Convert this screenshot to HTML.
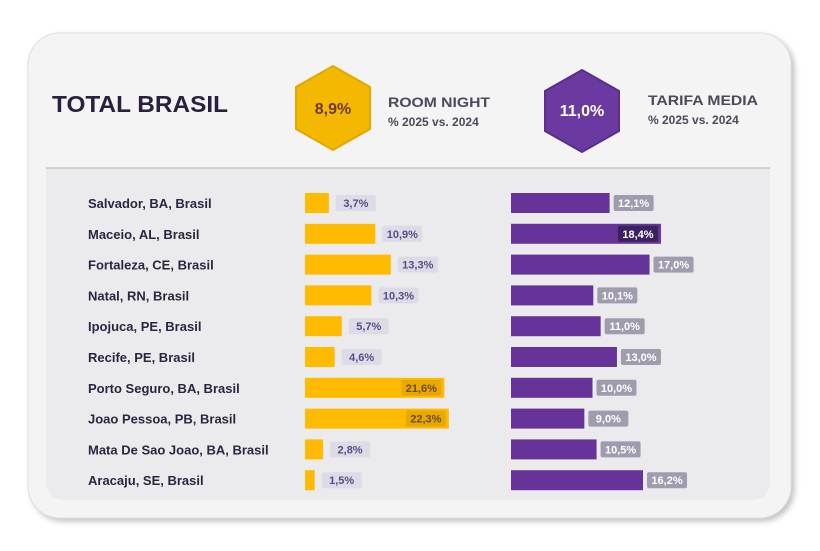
<!DOCTYPE html>
<html><head><meta charset="utf-8"><style>
body{margin:0;background:#fff;width:820px;height:546px;overflow:hidden;font-family:"Liberation Sans",sans-serif}
</style></head><body>
<svg width="820" height="546" viewBox="0 0 820 546" xmlns="http://www.w3.org/2000/svg">
<defs><filter id="sh" x="-5%" y="-5%" width="115%" height="115%"><feDropShadow dx="3" dy="3" stdDeviation="3" flood-color="#999" flood-opacity="0.6"/></filter></defs>
<rect x="28" y="33" width="763" height="485" rx="32" fill="#f4f4f5" stroke="#e0e0e0" filter="url(#sh)"/>
<path d="M46 168 H770 V480 Q770 500 750 500 H66 Q46 500 46 480 Z" fill="#ebebed"/>
<line x1="46" y1="168" x2="770" y2="168" stroke="#c8c8cc" stroke-width="1.5"/>
<text x="52" y="112" font-size="23" font-weight="bold" fill="#2a1f3d" textLength="176" lengthAdjust="spacingAndGlyphs">TOTAL BRASIL</text>
<polygon points="333,66 370,87 370,129 333,150 296,129 296,87" fill="#f5b800" stroke="#e0a800" stroke-width="2"/>
<text x="333" y="114" font-size="16" font-weight="bold" fill="#6b3a2a" text-anchor="middle">8,9%</text>
<text x="388" y="107" font-size="14" font-weight="bold" fill="#4a4a5a" textLength="102" lengthAdjust="spacingAndGlyphs">ROOM NIGHT</text>
<text x="388" y="126" font-size="12" font-weight="bold" fill="#4a4a5a">% 2025 vs. 2024</text>
<polygon points="582,70 619,91 619,131 582,152 545,131 545,91" fill="#6a3aa0" stroke="#5a2e8a" stroke-width="2"/>
<text x="582" y="116" font-size="16" font-weight="bold" fill="#fff" text-anchor="middle">11,0%</text>
<text x="648" y="105" font-size="14" font-weight="bold" fill="#4a4a5a" textLength="110" lengthAdjust="spacingAndGlyphs">TARIFA MEDIA</text>
<text x="648" y="124" font-size="12" font-weight="bold" fill="#4a4a5a">% 2025 vs. 2024</text>
<g id="rows"></g>
</svg>
<script>
const cities=["Salvador, BA, Brasil","Maceio, AL, Brasil","Fortaleza, CE, Brasil","Natal, RN, Brasil","Ipojuca, PE, Brasil","Recife, PE, Brasil","Porto Seguro, BA, Brasil","Joao Pessoa, PB, Brasil","Mata De Sao Joao, BA, Brasil","Aracaju, SE, Brasil"];
const roomNight=[3.7,10.9,13.3,10.3,5.7,4.6,21.6,22.3,2.8,1.5];
const tarifa=[12.1,18.4,17.0,10.1,11.0,13.0,10.0,9.0,10.5,16.2];
const NS="http://www.w3.org/2000/svg";
const g=document.getElementById('rows');
function rowY(i){return 203+i*30.8;}
function xRN(v){return 305+v*6.45;}
function xT(v){return 511+v*8.15;}
function mk(t,a){const e=document.createElementNS(NS,t);for(const k in a)e.setAttribute(k,a[k]);g.appendChild(e);return e;}
function fmt(v){return v.toFixed(1).replace('.',',')+'%';}
cities.forEach((c,i)=>{
  const y=rowY(i);
  const t=mk('text',{x:88,y:y+5,'font-size':13,'font-weight':'bold',fill:'#2d2540'});t.textContent=c;
  
  
  const x1=xRN(roomNight[i]);
  const b=mk('rect',{x:305,y:y-10,width:x1-305,height:20,fill:'#ffbb00'});
  
  
  const inside=roomNight[i]>18;
  const lw=40, lx=inside?x1-lw-3:x1+7;
  const lb=mk('rect',{x:lx,y:y-8,width:lw,height:16,rx:2,fill:inside?'#e8a800':'#dcdce6'});
  
  
  const lt=mk('text',{x:lx+lw/2,y:y+4,'font-size':11,'font-weight':'bold','text-anchor':'middle',fill:inside?'#6b4a20':'#5b4a8a'});lt.textContent=fmt(roomNight[i]);
  
  
  const x2=xT(tarifa[i]);
  const pb=mk('rect',{x:511,y:y-10,width:x2-511,height:20,fill:'#663399'});
  
  
  const pin=tarifa[i]>18;
  const pw=40, px=pin?x2-pw-3:x2+4;
  const pl=mk('rect',{x:px,y:y-8,width:pw,height:16,rx:2,fill:pin?'#3a2260':'#a09cae'});
  
  
  const pt=mk('text',{x:px+pw/2,y:y+4,'font-size':11,'font-weight':'bold','text-anchor':'middle',fill:'#fff'});pt.textContent=fmt(tarifa[i]);
  
  
});
</script>
</body></html>
